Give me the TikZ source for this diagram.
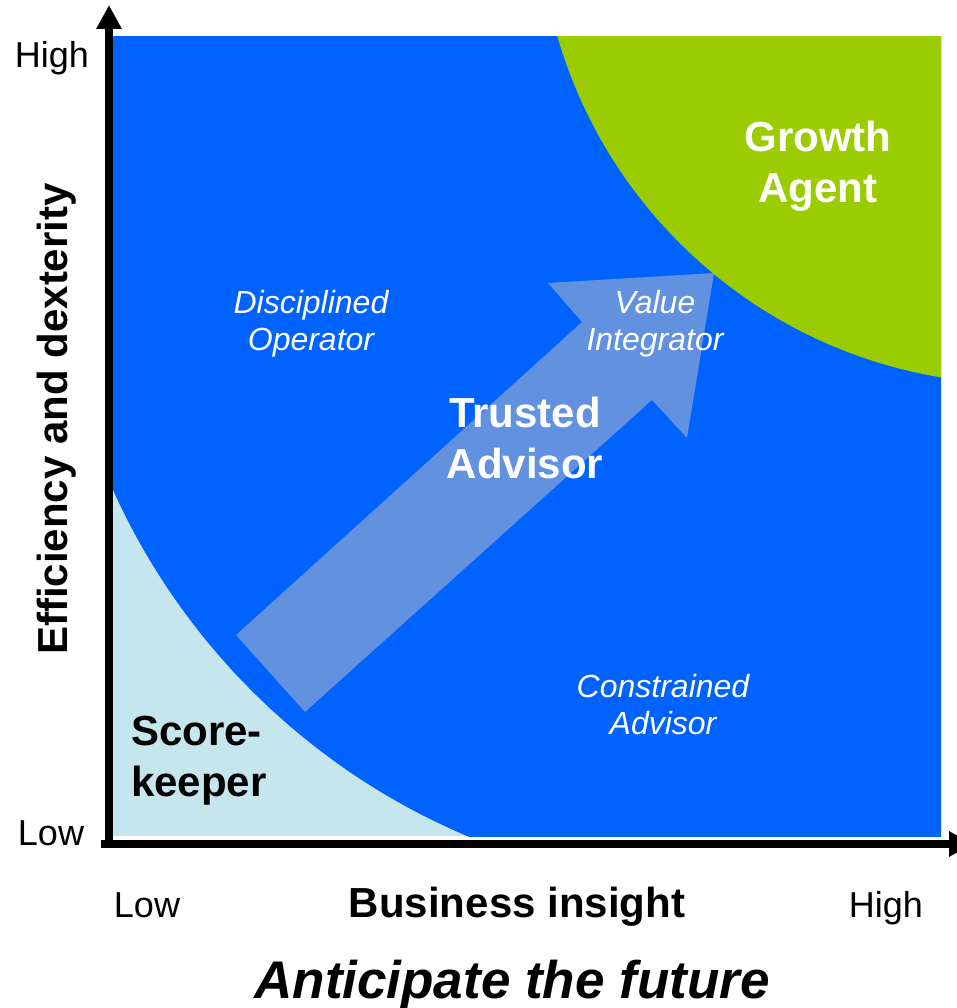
\documentclass[tikz,border=0pt]{standalone}
\usepackage{fontspec}
\setmainfont{Liberation Sans}
\usetikzlibrary{arrows.meta}
\definecolor{qblue}{HTML}{0062FF}
\definecolor{qgreen}{HTML}{9BCC00}
\definecolor{qlight}{HTML}{C6E6EE}
\definecolor{qarrow}{HTML}{6191DF}
\tikzset{
  axisline/.style={line width=8pt, draw=black, -{Triangle[length=24pt,width=24pt]}},
  ticklbl/.style={font=\fontsize{36}{43}\selectfont, text=black, inner sep=0pt, anchor=base},
  axistitle/.style={font=\fontsize{42}{50}\selectfont\bfseries, text=black, inner sep=0pt, anchor=base},
  biglbl/.style={font=\fontsize{42}{51}\selectfont\bfseries, inner sep=0pt, anchor=base, align=center},
  smalllbl/.style={font=\fontsize{32}{37}\selectfont\itshape, text=white, inner sep=0pt, anchor=base, align=center}
}
\begin{document}
\begin{tikzpicture}[x=1pt,y=-1pt]
\useasboundingbox (0,0) rectangle (957,1008);
\clip (0,0) rectangle (957,1008);
% regions
\begin{scope}
  \clip (113,37) rectangle (941,836);
  \fill[qlight] (113,37) rectangle (941,836);
  \fill[qblue] (730.6,212.2) circle [radius=677pt];
  \fill[qgreen] (1019.6,-97.3) circle [radius=481pt];
\end{scope}
% big arrow
\fill[qarrow] (236,635) -- (582,322) -- (548,283) -- (714,273) -- (687,438) -- (652,400) -- (305,712) -- cycle;
% axes
\coordinate (yfoot) at (109,848);
\coordinate (ytip) at (109,5);
\coordinate (xfoot) at (101,844);
\coordinate (xtip) at (973,844);
\draw[axisline] (yfoot) -- (ytip);
\draw[axisline] (xfoot) -- (xtip);
% axis labels
\node[ticklbl] (yhigh) at (52,68) {High};
\node[ticklbl] (ylow) at (51,845) {Low};
\node[ticklbl] (xlow) at (147,917) {Low};
\node[ticklbl] (xhigh) at (886,917) {High};
\node[axistitle] (xtitle) at (517,917) {Business insight};
\node[axistitle, rotate=90] (ytitle) at (67,419) {Efficiency and dexterity};
\node[font=\fontsize{53}{60}\selectfont\bfseries\itshape, inner sep=0pt, anchor=base] (caption) at (512,998) {Anticipate the future};
% region labels
\node[biglbl, text=white] (growth) at (818,203) {Growth\\Agent};
\node[biglbl, text=white] (trusted) at (525,478) {Trusted\\Advisor};
\node[biglbl, text=black, align=left, anchor=base west] (score) at (131,796) {Score-\\keeper};
\node[smalllbl] (disc) at (311,350) {Disciplined\\Operator};
\node[smalllbl] (value) at (655,350) {Value\\Integrator};
\node[smalllbl] (constr) at (663,734) {Constrained\\Advisor};
\end{tikzpicture}
\end{document}
